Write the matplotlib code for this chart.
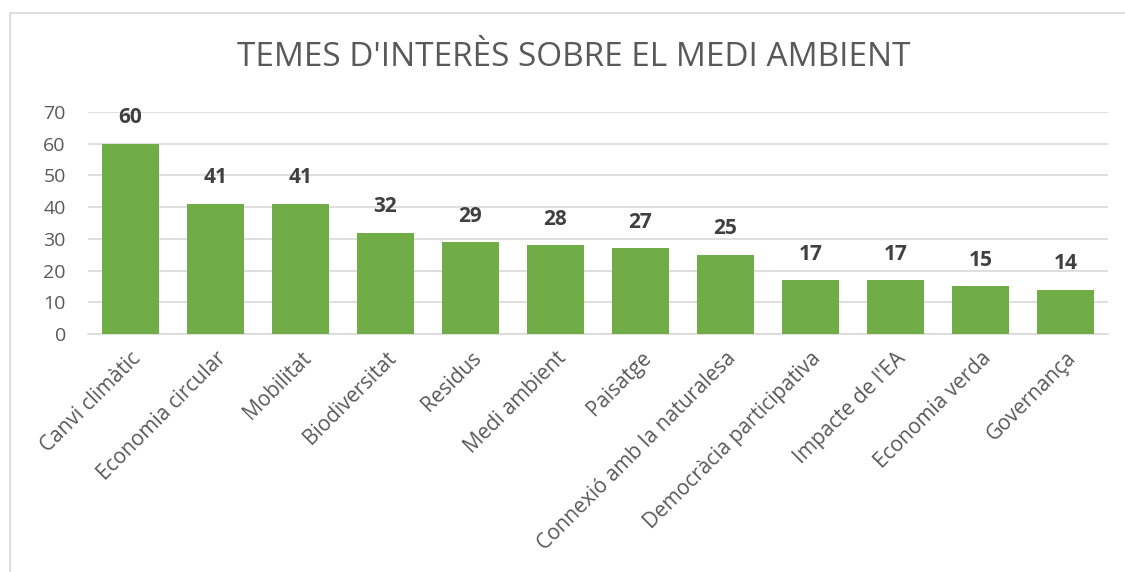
import matplotlib.pyplot as plt
from matplotlib.patches import Rectangle

plt.rcParams["font.family"] = ["Open Sans", "DejaVu Sans"]

temes = ["Canvi climàtic", "Economia circular", "Mobilitat", "Biodiversitat",
         "Residus", "Medi ambient", "Paisatge", "Connexió amb la naturalesa",
         "Democràcia participativa", "Impacte de l'EA", "Economia verda",
         "Governança"]
valors = [60, 41, 41, 32, 29, 28, 27, 25, 17, 17, 15, 14]

fig = plt.figure(figsize=(11.25, 5.72), dpi=100)
W, H = 1125, 572

# marc del gràfic (surt per la dreta i per baix)
fig.patches.append(Rectangle((10 / W, -0.1), 1.2, 1.1 - 13 / H,
                             transform=fig.transFigure, fill=False,
                             edgecolor="#d9d9d9", linewidth=1.2))

ax = fig.add_axes([88 / W, 1 - 334 / H, (1108 - 88) / W, (334 - 112) / H])

x = range(len(temes))
ax.bar(x, valors, width=0.66, color="#70ad47", zorder=3)

for i, v in zip(x, valors):
    ax.text(i, v + 8.2, str(v), ha="center", va="center", fontsize=15,
            fontweight="bold", color="#404040")

ax.set_xlim(-0.5, len(temes) - 0.5)
ax.set_ylim(0, 70)
ax.set_yticks(range(0, 71, 10))
ax.yaxis.grid(True, color="#d9d9d9", linewidth=1.2, zorder=0)
ax.tick_params(axis="y", length=0, labelsize=14, labelcolor="#595959", pad=16)
ax.tick_params(axis="x", length=0, labelsize=15, labelcolor="#595959", pad=10)
ax.set_xticks(list(x))
ax.set_xticklabels(temes, rotation=45, ha="right", va="top",
                   rotation_mode="anchor")
for s in ["top", "right", "left"]:
    ax.spines[s].set_visible(False)
ax.spines["bottom"].set_color("#d9d9d9")
ax.spines["bottom"].set_linewidth(1.2)

fig.text(574 / W, 1 - 57 / H, "TEMES D'INTERÈS SOBRE EL MEDI AMBIENT",
         ha="center", va="center", fontsize=24, color="#595959")

fig.savefig("out.png", dpi=100)
